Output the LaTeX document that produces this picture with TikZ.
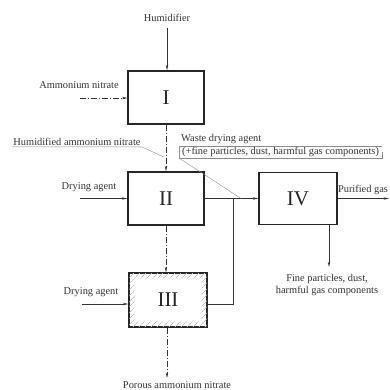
\documentclass[tikz,border=0pt]{standalone}
\usepackage{fontspec}
\setmainfont{Liberation Serif}
\usetikzlibrary{arrows.meta,patterns.meta}

\tikzset{
	unit/.style={draw=black!85, line width=1.2pt, minimum width=76pt, minimum height=53pt, inner sep=0pt, text=black!85, font=\fontsize{21}{21}\selectfont},
	lbl/.style={text=black!80, font=\fontsize{10.4}{11.5}\selectfont, inner sep=1pt},
	flow/.style={->, draw=black!80, line width=0.55pt},
	wet/.style={dash pattern=on 6pt off 2pt on 1pt off 2pt},
	leader/.style={draw=black!45, line width=0.4pt}
}

\begin{document}
\begin{tikzpicture}[x=1pt, y=-1pt, >={Stealth[length=5.5pt,width=2.4pt]}]
	\useasboundingbox (0,0) rectangle (389,390);
	
	% Units
	\node[unit] (u1) at (166,97.5) {I};
	\node[unit] (u2) at (166,198.5) {II};
	\node[unit, minimum width=78pt, minimum height=54pt] (u3) at (168,300) {III};
	\node[unit, minimum width=78pt, minimum height=52pt] (u4) at (298,198.5) {IV};
	
	% Lining of III
	\fill[pattern={Lines[angle=45,distance=4pt,line width=0.7pt]}, pattern color=black!25, even odd rule]
		([shift={(0.6,-0.6)}]u3.south west) rectangle ([shift={(-0.6,0.6)}]u3.north east)
		([shift={(6,-6)}]u3.south west) rectangle ([shift={(-6,6)}]u3.north east);
	
	% Labels
	\node[lbl] (hum) at (167,18) {Humidifier};
	\node[lbl] (an) at (79,85) {Ammonium nitrate};
	\node[lbl] (han) at (77,142) {Humidified ammonium nitrate};
	\node[lbl] (da2) at (89,187) {Drying agent};
	\node[lbl] (da3) at (91,292) {Drying agent};
	\node[lbl, anchor=west] (waste) at (180,139) {Waste drying agent};
	\node[lbl, anchor=west, inner xsep=3pt] (waste2) at (179,152) {(+fine particles, dust, harmful gas components)};
	\node[lbl] (pg) at (363,190) {Purified gas};
	\node[lbl, align=center] (fine) at (327,285) {Fine particles, dust,\\harmful gas components};
	\node[lbl] (pan) at (177,385) {Porous ammonium nitrate};
	
	% Free ends
	\coordinate (humA) at (167,28);
	\coordinate (anA) at (80,98);
	\coordinate (da2A) at (80,198.5);
	\coordinate (da3A) at (82,304);
	\coordinate (pgB) at (389,198.5);
	\coordinate (fineB) at (329,267);
	\coordinate (panB) at (167,378);
	\coordinate (join) at (233,198.5);
	\coordinate (hanTip) at (164,157);
	\coordinate (wasteTip) at (241,198.5);
	
	% Streams
	\draw[flow] (humA) -- (humA |- u1.north);
	\draw[flow, wet] (anA) -- (anA -| u1.west);
	\draw[flow, wet] (u1) -- (u2);
	\draw[flow, wet] (u2.south) -- (u2.south |- u3.north);
	\draw[flow, wet] (panB |- u3.south) -- (panB);
	\draw[flow] (da2A) -- (u2.west);
	\draw[flow] (da3A) -- (da3A -| u3.west);
	\draw[flow] (u2.east) -- (u4.west);
	\draw[draw=black!80, line width=0.55pt] (u3.east |- da3A) -| (join);
	\draw[flow] (u4.east) -- (pgB);
	\draw[flow] (fineB |- u4.south) -- (fineB);
	
	% Leaders
	\draw[leader] (han.south west) -- (han.south east) -- (hanTip);
	\draw[leader] (waste2.north west) -- (waste2.north east);
	\draw[leader] (waste2.north west) -- (waste2.south west) -- (waste2.south east) -- ++(0,-6);
	\draw[leader] (waste2.south west) -- (wasteTip);
\end{tikzpicture}
\end{document}
